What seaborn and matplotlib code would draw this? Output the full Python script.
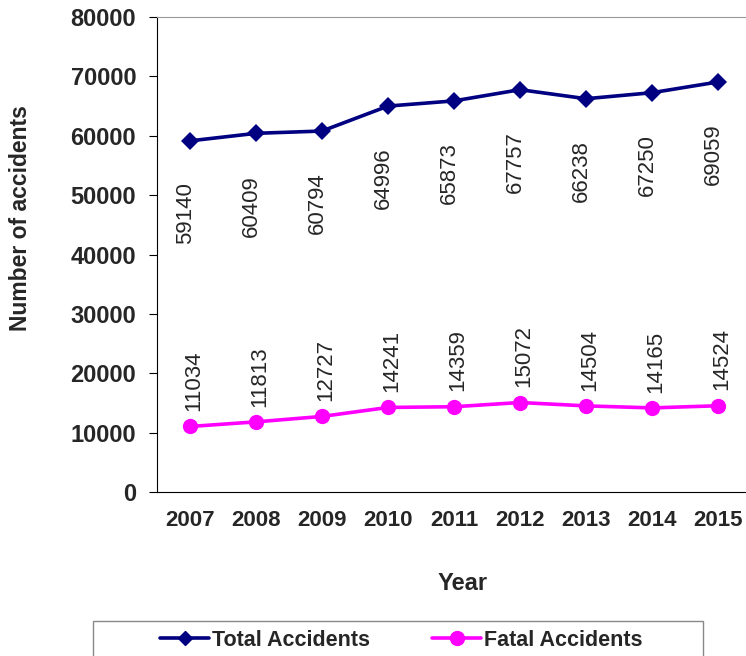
import pandas as pd
import numpy as np
import matplotlib
matplotlib.use("Agg")
import matplotlib.pyplot as plt
import seaborn as sns
from matplotlib.lines import Line2D
from matplotlib.patches import Rectangle

# --- DATA ---
years = ["2007", "2008", "2009", "2010", "2011", "2012", "2013", "2014", "2015"]
total_accidents = [59140, 60409, 60794, 64996, 65873, 67757, 66238, 67250, 69059]
fatal_accidents = [11034, 11813, 12727, 14241, 14359, 15072, 14504, 14165, 14524]
y_ticks = [0, 10000, 20000, 30000, 40000, 50000, 60000, 70000, 80000]

sns.set_style("white")
plt.rcParams['font.family'] = ['Liberation Sans', 'DejaVu Sans']

df = pd.DataFrame({
    "pos": list(range(len(years))) * 2,
    "value": total_accidents + fatal_accidents,
    "series": ["Total Accidents"] * len(years) + ["Fatal Accidents"] * len(years),
})

fig = plt.figure(figsize=(7.46, 6.56), dpi=100)
W, H = 746, 656
# plot area runs a little past the right edge, as in the source image
ax = fig.add_axes([157 / W, (H - 492) / H, 594 / W, (492 - 17) / H])

palette = {"Total Accidents": "#000080", "Fatal Accidents": "#FF00FF"}
markers = {"Total Accidents": "D", "Fatal Accidents": "o"}
sns.lineplot(data=df, x="pos", y="value", hue="series", style="series",
             palette=palette, markers=markers, dashes=False, linewidth=2.6,
             markersize=9.5, markeredgewidth=0, ax=ax, legend=False)
for line in ax.get_lines():
    if line.get_marker() == "o":
        line.set_markersize(11)

ax.set_xlim(-0.5, len(years) - 0.5)
ax.set_ylim(0, 80000)
ax.set_yticks(y_ticks)
ax.set_yticklabels([str(v) for v in y_ticks], fontsize=17, fontweight="bold")
ax.set_xticks(range(len(years)))
ax.set_xticklabels(years, fontsize=16, fontweight="bold")
ax.set_xticks(np.arange(-0.5, len(years), 1.0), minor=True)
ax.tick_params(axis="x", which="major", length=0, pad=13)
ax.tick_params(axis="x", which="minor", length=6, width=0.8, color="black", direction="out")
ax.tick_params(axis="y", length=6, width=0.8, color="black", direction="out", left=True, pad=9)

ax.spines["left"].set_color("black")
ax.spines["bottom"].set_color("black")
ax.spines["top"].set_color("#999999")
ax.spines["right"].set_visible(False)

ax.set_xlabel("Year", fontsize=17, fontweight="bold")
ax.xaxis.set_label_coords(0.515, -0.168)
ax.set_ylabel("Number of accidents", fontsize=16.5, fontweight="bold")
ax.yaxis.set_label_coords(-0.21, 0.577)

# value labels
for i, (t, f) in enumerate(zip(total_accidents, fatal_accidents)):
    ax.annotate(str(t), (i, t), xytext=(-3, -30), textcoords="offset points",
                rotation=90, ha="center", va="top", fontsize=16)
    ax.annotate(str(f), (i, f), xytext=(3, 11), textcoords="offset points",
                rotation=90, ha="center", va="bottom", fontsize=16)

# legend: frame drawn separately so it can be wider than its entries
handles = [
    Line2D([], [], color="#000080", marker="D", markersize=7, linewidth=2.6),
    Line2D([], [], color="#FF00FF", marker="o", markersize=10, linewidth=2.6),
]
fig.legend(handles, ["Total Accidents", "Fatal Accidents"], ncol=2,
           loc="center", bbox_to_anchor=(401 / W, 1 - 640 / H),
           prop={"size": 15.5, "weight": "bold"}, frameon=False,
           handlelength=2.3, handletextpad=0.1, columnspacing=2.9, borderpad=0)
fig.patches.append(Rectangle((93 / W, -0.01), 610 / W, (H - 621) / H + 0.01,
                             transform=fig.transFigure, fill=False,
                             edgecolor="#888888", linewidth=1.0))

fig.savefig("out.png", dpi=100)
